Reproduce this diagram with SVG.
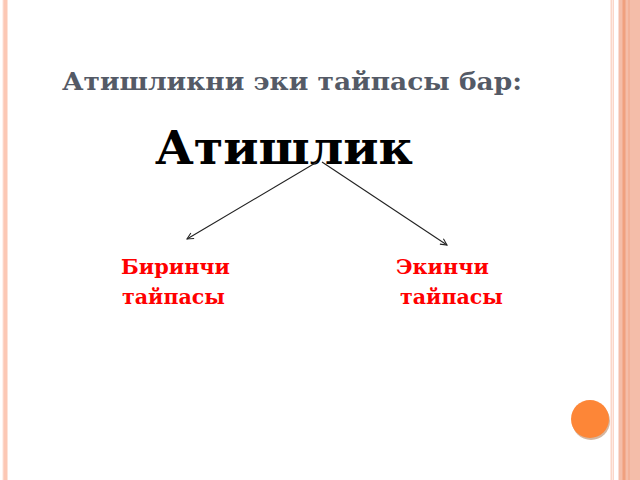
<svg xmlns="http://www.w3.org/2000/svg" width="640" height="480" viewBox="0 0 640 480">
  <defs>
    <style>
      .title { font-family: "DejaVu Serif", "Liberation Serif", serif; font-weight: bold; fill: #545A66; }
      .main { font-family: "DejaVu Serif", "Liberation Serif", serif; font-weight: bold; fill: #000000; }
      .lbl { font-family: "DejaVu Serif", "Liberation Serif", serif; font-weight: bold; fill: #FF0000; font-size: 20px; }
      .conn { stroke: #222222; stroke-width: 1.1; fill: none; }
    </style>
    <marker id="arr" viewBox="0 0 10 10" refX="9" refY="5" markerWidth="8" markerHeight="8" markerUnits="userSpaceOnUse" orient="auto">
      <path d="M1,1 L9,5 L1,9" fill="none" stroke="#222222" stroke-width="1.3"/>
    </marker>
  </defs>

  <g id="background">
    <rect x="0" y="0" width="640" height="480" fill="#FFFFFF"/>
    <rect x="2.5" y="0" width="5.5" height="480" fill="#FDE3D9"/>
    <rect x="3.5" y="0" width="3.5" height="480" fill="#FCC8B5"/>
    <rect x="610.5" y="0" width="1.5" height="480" fill="#FBD6C8"/>
    <rect x="612.5" y="0" width="1.5" height="480" fill="#FBD6C8"/>
    <rect x="618.5" y="0" width="21.5" height="480" fill="#F4BDA9"/>
    <rect x="622.5" y="0" width="3" height="480" fill="#F0A07E"/>
    <rect x="628" y="0" width="2" height="480" fill="#F2B198"/>
    <circle cx="591" cy="421" r="19" fill="#B98560" opacity="0.6"/>
    <circle cx="590" cy="419" r="19" fill="#FD8637"/>
  </g>

  <g id="heading">
    <text class="title" x="62" y="90" font-size="25" textLength="460" lengthAdjust="spacingAndGlyphs">Атишликни эки тайпасы бар:</text>
  </g>

  <g id="node-root">
    <text class="main" x="155" y="164" font-size="46" textLength="258" lengthAdjust="spacingAndGlyphs">Атишлик</text>
  </g>

  <g id="node-first">
    <text class="lbl" x="121" y="274" textLength="109" lengthAdjust="spacingAndGlyphs">Биринчи</text>
    <text class="lbl" x="122" y="304" textLength="103" lengthAdjust="spacingAndGlyphs">тайпасы</text>
  </g>

  <g id="node-second">
    <text class="lbl" x="396" y="274" textLength="93" lengthAdjust="spacingAndGlyphs">Экинчи</text>
    <text class="lbl" x="400" y="304" textLength="103" lengthAdjust="spacingAndGlyphs">тайпасы</text>
  </g>

  <g id="connectors">
    <line class="conn" x1="317" y1="162" x2="187" y2="239" marker-end="url(#arr)"/>
    <line class="conn" x1="322" y1="162" x2="447" y2="245" marker-end="url(#arr)"/>
  </g>
</svg>
